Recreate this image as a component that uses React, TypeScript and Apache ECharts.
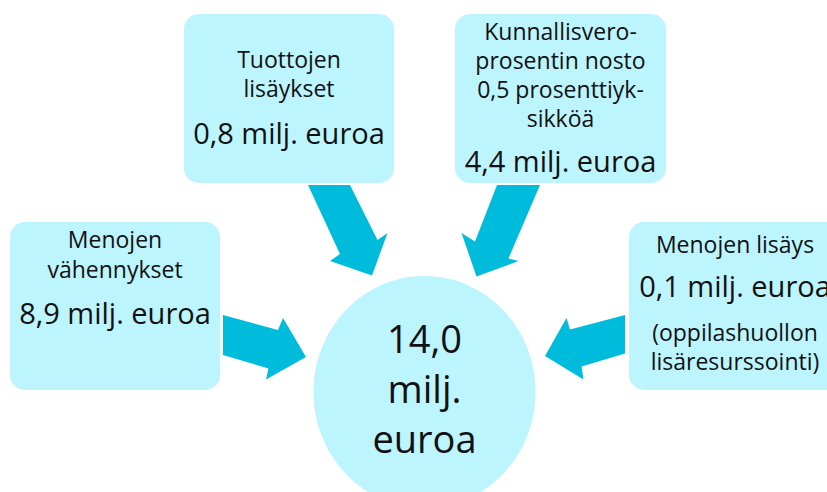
import React, { useEffect, useRef } from "react";
import * as echarts from "echarts";

// ---- data ----
const categories = [
  "Menojen vähennykset",
  "Tuottojen lisäykset",
  "Kunnallisveroprosentin nosto 0,5 prosenttiyksikköä",
  "Menojen lisäys",
];
const titleLines = [
  ["Menojen", "vähennykset"],
  ["Tuottojen", "lisäykset"],
  ["Kunnallisvero-", "prosentin nosto", "0,5 prosenttiyk-", "sikköä"],
  ["Menojen lisäys"],
];
const values = [8.9, 0.8, 4.4, 0.1];
const noteLines = [[], [], [], ["(oppilashuollon", "lisäresurssointi)"]];
const total = 14.0;
const unitLines = ["milj.", "euroa"];

const fmt = (v: number) => v.toFixed(1).replace(".", ",");

// ---- layout ----
const BOX_FILL = "#BDF5FE";
const ARROW_FILL = "#00BCDC";
const TEXT = "#111111";
const FONT = "'Open Sans', 'Noto Sans', sans-serif";

const boxes = [
  { x: 10, y: 222, w: 210, h: 168, titleBase: 247.5, titleLH: 30, valueBase: 323.5, noteBase: 0, noteLH: 30 },
  { x: 184, y: 14, w: 210, h: 169, titleBase: 68, titleLH: 29.2, valueBase: 143.5, noteBase: 0, noteLH: 30 },
  { x: 455, y: 14, w: 211, h: 169, titleBase: 39.5, titleLH: 29, valueBase: 171.5, noteBase: 0, noteLH: 30 },
  { x: 629, y: 222, w: 212, h: 168, titleBase: 253, titleLH: 30, valueBase: 297, noteBase: 340.5, noteLH: 29.5 },
];

const arrows: number[][][] = [
  [[223, 315], [278, 330], [283, 318], [306, 357], [266, 379.5], [268.5, 368.5], [223, 355]],
  [[308, 185], [350, 185], [377.5, 240], [387.5, 233], [372, 275.5], [330, 261], [340, 254]],
  [[497, 185], [540, 185], [508.5, 258.5], [518.5, 261], [476.5, 276.5], [461.5, 233], [475, 241.5]],
  [[625, 315], [625, 353.5], [581.5, 366.5], [583.5, 379.5], [545, 356], [566.5, 318], [570, 329.5]],
];

const circle = { cx: 424.5, cy: 392, rx: 111, ry: 116 };
const circleBase = 352;
const circleLH = 50;

function block(lines: string[], x: number, firstBaseline: number, size: number, lh: number) {
  return {
    type: "text",
    z: 10,
    style: {
      text: lines.join("\n"),
      x,
      y: firstBaseline - 0.38 * size - lh / 2,
      fill: TEXT,
      fontSize: size,
      fontFamily: FONT,
      fontWeight: 400,
      lineHeight: lh,
      align: "center",
      verticalAlign: "top",
      textAlign: "center",
      textVerticalAlign: "top",
    },
  };
}

export default function App() {
  const ref = useRef<HTMLDivElement>(null);
  useEffect(() => {
    if (!ref.current) return;
    const chart = echarts.init(ref.current, undefined, { renderer: "svg" });
    const elements: any[] = [];
    arrows.forEach((pts) => {
      elements.push({ type: "polygon", z: 1, shape: { points: pts }, style: { fill: ARROW_FILL } });
    });
    boxes.forEach((b, i) => {
      elements.push({
        type: "rect",
        z: 2,
        shape: { x: b.x, y: b.y, width: b.w, height: b.h, r: 15 },
        style: { fill: BOX_FILL },
      });
      const cx = b.x + b.w / 2;
      elements.push(block(titleLines[i], cx, b.titleBase, 23, b.titleLH));
      elements.push(block([fmt(values[i]) + " milj. euroa"], cx, b.valueBase, 29, 36));
      if (noteLines[i].length) elements.push(block(noteLines[i], cx, b.noteBase, 23, b.noteLH));
    });
    elements.push({
      type: "ellipse",
      z: 3,
      shape: { cx: circle.cx, cy: circle.cy, rx: circle.rx, ry: circle.ry },
      style: { fill: BOX_FILL },
    });
    elements.push(block([fmt(total), ...unitLines], circle.cx, circleBase, 38, circleLH));

    chart.setOption({
      animation: false,
      backgroundColor: "#ffffff",
      title: { show: false, text: categories.join(" / ") },
      graphic: { elements },
    });
    return () => chart.dispose();
  }, []);
  return (
    <div
      ref={ref}
      style={{ position: "fixed", left: 0, top: 0, width: 827, height: 492 }}
    />
  );
}
